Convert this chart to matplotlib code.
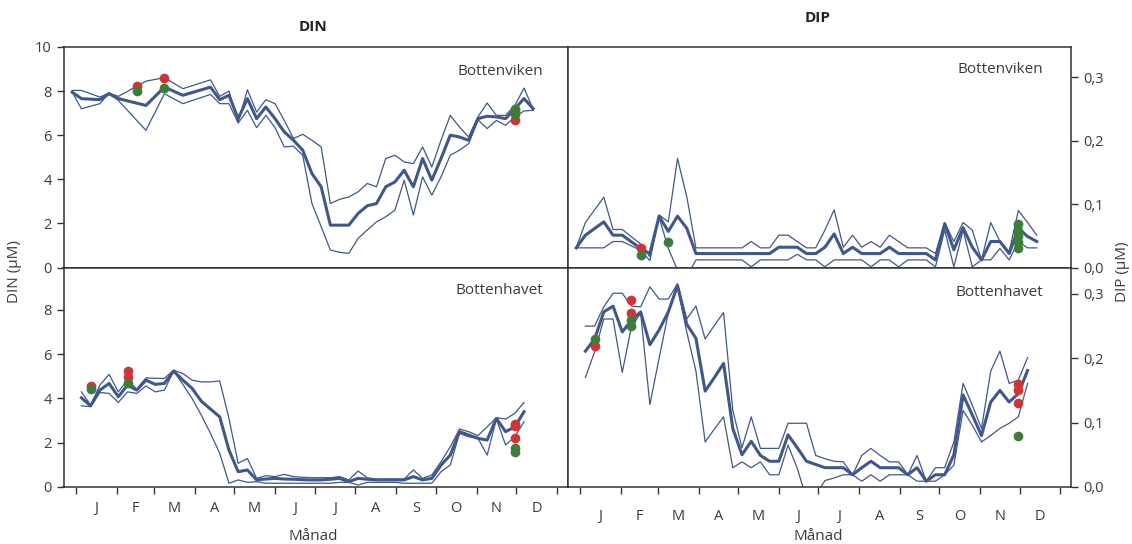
import matplotlib
matplotlib.use("Agg")
import matplotlib.pyplot as plt

plt.rcParams['font.family'] = ['Open Sans', 'DejaVu Sans']

# ---- data (day of year, weekly samples) ----
days_din_bv = [-3, 4, 18, 25, 32, 53, 67, 81, 102, 109, 116, 123, 130, 137, 144, 151,
               158, 165, 172, 179, 186, 193, 200, 207, 214, 221, 228, 235, 242, 249,
               256, 263, 270, 277, 284, 291, 298, 305, 312, 319, 326, 333, 340, 347]
din_bv_mean = [7.95, 7.66, 7.61, 7.88, 7.66, 7.35, 8.18, 7.81, 8.18, 7.61,
               7.81, 6.75, 7.66, 6.75, 7.28, 6.75, 6.15, 5.77, 5.32, 4.26,
               3.66, 1.92, 1.92, 1.92, 2.45, 2.80, 2.90, 3.66, 3.88, 4.41,
               3.66, 4.94, 3.96, 4.94, 6.00, 5.92, 5.77, 6.75, 6.86, 6.83,
               6.75, 7.20, 7.66, 7.20]
din_bv_high = [8.03, 8.03, 7.73, 7.91, 7.76, 8.45, 8.61, 8.11, 8.51, 7.76,
               8.00, 6.60, 8.06, 7.05, 7.61, 7.43, 6.67, 5.85, 6.04, 5.77,
               5.47, 2.90, 3.09, 3.20, 3.43, 3.81, 3.66, 4.94, 5.09, 4.79,
               4.71, 5.47, 4.56, 5.77, 6.90, 6.37, 5.92, 6.83, 7.46, 6.90,
               6.90, 7.35, 8.14, 7.16]
din_bv_low = [7.95, 7.20, 7.43, 7.91, 7.58, 6.22, 7.88, 7.43, 7.85, 7.43,
              7.43, 6.55, 7.13, 6.34, 6.90, 6.34, 5.47, 5.50, 5.09, 2.90,
              1.85, 0.79, 0.69, 0.64, 1.32, 1.70, 2.07, 2.30, 2.60, 3.96,
              2.38, 4.11, 3.28, 4.11, 5.09, 5.32, 5.62, 6.70, 6.30, 6.67,
              6.45, 6.83, 7.10, 7.13]

days_dip_bv = [-3, 4, 18, 25, 32, 46, 53, 60, 67, 74, 81, 88, 95, 102, 109, 116,
               123, 130, 137, 144, 151, 158, 165, 172, 179, 186, 193, 200, 207,
               214, 221, 228, 235, 242, 249, 256, 263, 270, 277, 284, 291, 298,
               305, 312, 319, 326, 333, 340, 347]
dip_bv_mean = [0.031, 0.051, 0.072, 0.051, 0.051, 0.030, 0.022, 0.081, 0.057, 0.081,
               0.062, 0.022, 0.022, 0.022, 0.022, 0.022, 0.022, 0.022, 0.022, 0.022,
               0.032, 0.032, 0.032, 0.022, 0.022, 0.032, 0.053, 0.022, 0.032, 0.022,
               0.022, 0.022, 0.032, 0.022, 0.022, 0.022, 0.022, 0.012, 0.069, 0.028,
               0.063, 0.032, 0.012, 0.041, 0.041, 0.022, 0.062, 0.049, 0.041]
dip_bv_high = [0.031, 0.071, 0.111, 0.060, 0.060, 0.037, 0.017, 0.083, 0.072, 0.172,
               0.112, 0.031, 0.031, 0.031, 0.031, 0.031, 0.031, 0.041, 0.031, 0.031,
               0.051, 0.051, 0.041, 0.031, 0.031, 0.059, 0.091, 0.032, 0.051, 0.032,
               0.041, 0.032, 0.051, 0.041, 0.031, 0.031, 0.031, 0.022, 0.071, 0.041,
               0.071, 0.059, 0.012, 0.071, 0.041, 0.025, 0.090, 0.071, 0.051]
dip_bv_low = [0.031, 0.031, 0.031, 0.041, 0.041, 0.027, 0.011, 0.079, 0.030, -0.004,
              -0.015, 0.012, 0.012, 0.012, 0.012, 0.012, 0.012, 0.001, 0.012, 0.012,
              0.012, 0.012, 0.021, 0.012, 0.012, 0.001, 0.012, 0.012, 0.012, 0.012,
              0.001, 0.012, 0.012, 0.001, 0.012, 0.012, 0.012, 0.001, 0.059, 0.001,
              0.059, 0.001, 0.012, 0.012, 0.030, 0.012, 0.041, 0.031, 0.031]

days_bh = [4, 11, 18, 25, 32, 39, 46, 53, 60, 67, 74, 81, 88, 95, 102, 109, 116,
           123, 130, 137, 144, 151, 158, 165, 172, 179, 186, 193, 200, 207, 214,
           221, 228, 235, 242, 249, 256, 263, 270, 277, 284, 291, 298, 305, 312,
           319, 326, 333, 340]
din_bh_mean = [4.03, 3.67, 4.38, 4.68, 4.08, 4.60, 4.38, 4.83, 4.64, 4.68,
               5.24, 4.83, 4.46, 3.88, 3.52, 3.17, 1.67, 0.69, 0.77, 0.32,
               0.36, 0.39, 0.36, 0.35, 0.33, 0.32, 0.32, 0.35, 0.39, 0.24,
               0.39, 0.35, 0.32, 0.32, 0.32, 0.32, 0.47, 0.32, 0.39, 0.99,
               1.44, 2.50, 2.35, 2.20, 2.12, 3.10, 2.50, 2.72, 3.40]
din_bh_high = [4.30, 3.70, 4.60, 5.09, 4.30, 4.83, 4.42, 4.93, 4.91, 4.91,
               5.28, 5.13, 4.83, 4.75, 4.75, 4.79, 3.10, 1.07, 1.29, 0.39,
               0.51, 0.47, 0.57, 0.47, 0.44, 0.42, 0.42, 0.42, 0.47, 0.32,
               0.72, 0.42, 0.35, 0.36, 0.36, 0.36, 0.77, 0.39, 0.54, 1.14,
               1.82, 2.62, 2.50, 2.32, 2.72, 3.13, 3.07, 3.33, 3.82]
din_bh_low = [3.67, 3.63, 4.27, 4.23, 3.82, 4.30, 4.23, 4.57, 4.30, 4.38,
              5.24, 4.64, 4.00, 3.25, 2.42, 1.52, 0.17, 0.32, 0.21, 0.24,
              0.17, 0.17, 0.17, 0.17, 0.17, 0.17, 0.17, 0.17, 0.21, 0.21,
              0.09, 0.21, 0.21, 0.21, 0.21, 0.17, 0.17, 0.17, 0.17, 0.69,
              0.99, 2.42, 2.27, 2.20, 1.44, 3.07, 1.90, 2.27, 2.95]

dip_bh_mean = [0.211, 0.230, 0.272, 0.281, 0.241, 0.259, 0.272, 0.221, 0.244, 0.272,
               0.313, 0.253, 0.231, 0.149, 0.170, 0.192, 0.091, 0.050, 0.071, 0.049,
               0.040, 0.040, 0.081, 0.061, 0.040, 0.035, 0.030, 0.030, 0.030, 0.019,
               0.030, 0.040, 0.030, 0.030, 0.030, 0.019, 0.030, 0.009, 0.019, 0.019,
               0.050, 0.143, 0.112, 0.080, 0.132, 0.150, 0.132, 0.145, 0.181]
dip_bh_high = [0.250, 0.250, 0.280, 0.301, 0.301, 0.281, 0.280, 0.311, 0.292, 0.292,
               0.316, 0.261, 0.281, 0.230, 0.251, 0.271, 0.119, 0.061, 0.109, 0.060,
               0.060, 0.060, 0.099, 0.099, 0.099, 0.049, 0.044, 0.040, 0.039, 0.019,
               0.049, 0.060, 0.049, 0.039, 0.039, 0.019, 0.049, 0.009, 0.030, 0.030,
               0.070, 0.161, 0.127, 0.091, 0.180, 0.211, 0.161, 0.166, 0.201]
dip_bh_low = [0.170, 0.210, 0.261, 0.261, 0.178, 0.249, 0.270, 0.128, 0.200, 0.270,
              0.311, 0.241, 0.180, 0.070, 0.090, 0.109, 0.030, 0.039, 0.030, 0.039,
              0.019, 0.019, 0.065, 0.029, -0.018, -0.013, 0.010, 0.014, 0.019, 0.019,
              0.009, 0.019, 0.009, 0.019, 0.019, 0.019, 0.009, 0.009, 0.009, 0.019,
              0.034, 0.119, 0.096, 0.070, 0.080, 0.091, 0.099, 0.109, 0.161]

# single observations (red / green)
din_bv_red_x, din_bv_red_y = [46, 67, 333], [8.23, 8.61, 6.68]
din_bv_grn_x, din_bv_grn_y = [46, 67, 333, 333, 333], [8.00, 8.14, 6.95, 7.08, 7.20]
dip_bv_red_x, dip_bv_red_y = [46], [0.030]
dip_bv_grn_x = [46, 67, 333, 333, 333, 333, 333]
dip_bv_grn_y = [0.020, 0.040, 0.031, 0.040, 0.049, 0.058, 0.068]
din_bh_red_x, din_bh_red_y = [11, 39, 39, 333, 333, 333], [4.55, 5.24, 4.99, 2.85, 2.75, 2.20]
din_bh_grn_x, din_bh_grn_y = [11, 39, 333, 333], [4.42, 4.68, 1.74, 1.56]
dip_bh_red_x = [11, 39, 39, 333, 333, 333]
dip_bh_red_y = [0.219, 0.290, 0.270, 0.160, 0.150, 0.130]
dip_bh_grn_x, dip_bh_grn_y = [11, 39, 39, 333], [0.230, 0.259, 0.250, 0.079]

month_starts = [0, 31, 59, 90, 120, 151, 181, 212, 243, 273, 304, 334, 365]
month_labels = ['J', 'F', 'M', 'A', 'M', 'J', 'J', 'A', 'S', 'O', 'N', 'D']

LINE = '#40578a'
RED = '#d13434'
GREEN = '#3e7b3c'
SPINE = '#333333'
TXT = '#3a3a3a'


def draw_panel(ax, days, mean, high, low, red, green):
    ax.plot(days, high, color=LINE, lw=0.9, zorder=2)
    ax.plot(days, low, color=LINE, lw=0.9, zorder=2)
    ax.plot(days, mean, color=LINE, lw=2.2, zorder=3)
    ax.plot(red[0], red[1], 'o', color=RED, ms=7, mec='none', zorder=4)
    ax.plot(green[0], green[1], 'o', color=GREEN, ms=7, mec='none', zorder=5)
    ax.set_xlim(-9.6, 373)
    for s in ax.spines.values():
        s.set_color(SPINE)
        s.set_linewidth(1.1)
    ax.tick_params(colors=SPINE, labelcolor=TXT, labelsize=10.5, length=5, width=1)


fig = plt.figure(figsize=(11.32, 5.44), dpi=100)
L, M, R = 63.5 / 1132, 567.5 / 1132, 1071 / 1132
T, C, B = 1 - 47 / 544, 1 - 267.5 / 544, 1 - 487 / 544

ax1 = fig.add_axes([L, C, M - L, T - C])
ax2 = fig.add_axes([M, C, R - M, T - C])
ax3 = fig.add_axes([L, B, M - L, C - B])
ax4 = fig.add_axes([M, B, R - M, C - B])

draw_panel(ax1, days_din_bv, din_bv_mean, din_bv_high, din_bv_low,
           (din_bv_red_x, din_bv_red_y), (din_bv_grn_x, din_bv_grn_y))
draw_panel(ax2, days_dip_bv, dip_bv_mean, dip_bv_high, dip_bv_low,
           (dip_bv_red_x, dip_bv_red_y), (dip_bv_grn_x, dip_bv_grn_y))
draw_panel(ax3, days_bh, din_bh_mean, din_bh_high, din_bh_low,
           (din_bh_red_x, din_bh_red_y), (din_bh_grn_x, din_bh_grn_y))
draw_panel(ax4, days_bh, dip_bh_mean, dip_bh_high, dip_bh_low,
           (dip_bh_red_x, dip_bh_red_y), (dip_bh_grn_x, dip_bh_grn_y))

# y axes
ax1.set_ylim(0, 10)
ax1.set_yticks([0, 2, 4, 6, 8, 10])
ax3.set_ylim(0, 9.92)
ax3.set_yticks([0, 2, 4, 6, 8])
ax2.set_ylim(0, 0.348)
ax4.set_ylim(0, 0.341)
for ax in (ax2, ax4):
    ax.yaxis.tick_right()
    ax.set_yticks([0, 0.1, 0.2, 0.3])
    ax.set_yticklabels(['0,0', '0,1', '0,2', '0,3'])

# x axes: month boundaries as ticks, month letters centred between them
for ax in (ax1, ax2):
    ax.set_xticks([])
for ax, pad in ((ax3, 10), (ax4, 16)):
    ax.set_xticks(month_starts)
    ax.set_xticklabels([''] * len(month_starts))
    mids = [(a + b) / 2 for a, b in zip(month_starts[:-1], month_starts[1:])]
    ax.set_xticks(mids, minor=True)
    ax.set_xticklabels(month_labels, minor=True)
    ax.tick_params(axis='x', which='minor', length=0, pad=pad, labelsize=10.5, labelcolor=TXT)

# panel names
ax1.text(0.951, 0.887, 'Bottenviken', transform=ax1.transAxes, ha='right', va='center', fontsize=11, color=TXT)
ax2.text(0.944, 0.896, 'Bottenviken', transform=ax2.transAxes, ha='right', va='center', fontsize=11, color=TXT)
ax3.text(0.951, 0.897, 'Bottenhavet', transform=ax3.transAxes, ha='right', va='center', fontsize=11, color=TXT)
ax4.text(0.944, 0.884, 'Bottenhavet', transform=ax4.transAxes, ha='right', va='center', fontsize=11, color=TXT)

fig.text(313 / 1132, 1 - 27 / 544, 'DIN', ha='center', va='center', fontsize=11, fontweight='bold', color='#222222')
fig.text(818 / 1132, 1 - 18 / 544, 'DIP', ha='center', va='center', fontsize=11, fontweight='bold', color='#222222')
fig.text(15 / 1132, 0.5, 'DIN (µM)', rotation=90, ha='center', va='center', fontsize=11, color=TXT)
fig.text(1122 / 1132, 0.5, 'DIP (µM)', rotation=90, ha='center', va='center', fontsize=11, color=TXT)
fig.text(313 / 1132, 1 - 537 / 544, 'Månad', ha='center', va='center', fontsize=11, color=TXT)
fig.text(818 / 1132, 1 - 537 / 544, 'Månad', ha='center', va='center', fontsize=11, color=TXT)

fig.savefig('out.png', dpi=100)
